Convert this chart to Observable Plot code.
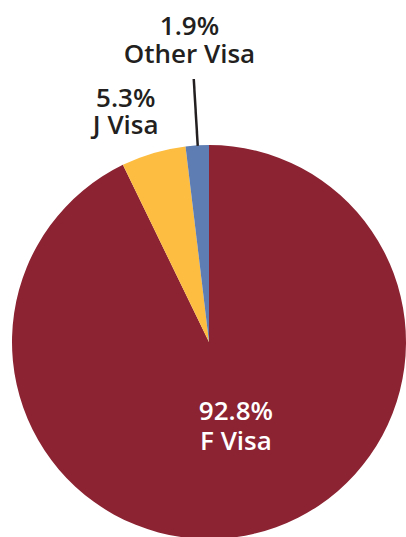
<!DOCTYPE html>
<html>
<head>
<meta charset="utf-8">
<script src="https://cdn.jsdelivr.net/npm/d3@7"></script>
<script src="https://cdn.jsdelivr.net/npm/@observablehq/plot@0.6"></script>
<style>
  html, body { margin: 0; padding: 0; background: #fff; }
  #chart svg { display: block; }
</style>
</head>
<body>
<div id="chart"></div>
<script>
// ---- data ----
const categories = ["F Visa", "J Visa", "Other Visa"];
const shares = [92.8, 5.3, 1.9];
const pctLabels = ["92.8%", "5.3%", "1.9%"];
const nameLabels = ["F Visa", "J Visa", "Other Visa"];
const colors = ["#8b2332", "#fdbd40", "#5d7db3"];

// ---- layout (not data) ----
const R = 197, CX = 209, CY = 342;
const labelLayout = {
  "F Visa":     {k: 0.44, dx: 7,   fill: "#ffffff", size: 26, gap: 30, weight: 600},
  "J Visa":     {k: 1.22, dx: -16, fill: "#231f20", size: 26, gap: 27, weight: 600},
  "Other Visa": {k: 1.535, dx: -2, fill: "#231f20", size: 26, gap: 28, weight: 600}
};

const pie = d3.pie().sort(null).value(d => d.share)(
  categories.map((c, i) => ({category: c, share: shares[i], pct: pctLabels[i], name: nameLabels[i]}))
);
const slices = pie.map(p => {
  const mid = (p.startAngle + p.endAngle) / 2;
  return {...p.data, startAngle: p.startAngle, endAngle: p.endAngle, sin: Math.sin(mid), cos: Math.cos(mid)};
});

function arcs(index, scales) {
  const x = scales.x, y = scales.y, color = scales.color;
  const cx = x(0), cy = y(0), r = x(1) - x(0);
  const g = d3.create("svg:g").attr("transform", `translate(${cx},${cy})`);
  const arc = d3.arc().innerRadius(0).outerRadius(r);
  g.selectAll("path").data(slices).join("path")
    .attr("d", d => arc(d))
    .attr("fill", d => color(d.category));
  return g.node();
}

function textMarks(cat) {
  const L = labelLayout[cat];
  const data = slices.filter(d => d.category === cat);
  const common = {
    x: d => d.sin * L.k,
    y: d => d.cos * L.k,
    dx: L.dx,
    fill: L.fill,
    fontSize: L.size,
    fontWeight: L.weight,
    lineAnchor: "middle",
    textAnchor: "middle"
  };
  return [
    Plot.text(data, {...common, text: "pct", dy: -L.gap / 2}),
    Plot.text(data, {...common, text: "name", dy: L.gap / 2})
  ];
}

const chart = Plot.plot({
  width: 406,
  height: 537,
  margin: 0,
  style: {fontFamily: "'Open Sans', sans-serif", background: "#fff"},
  x: {domain: [-1, 1], range: [CX - R, CX + R], axis: null},
  y: {domain: [-1, 1], range: [CY + R, CY - R], axis: null},
  color: {domain: categories, range: colors},
  marks: [
    arcs,
    Plot.link(slices.filter(d => d.category === "Other Visa"), {
      x1: d => d.sin * 1.0,
      y1: d => d.cos * 1.0,
      x2: d => d.sin * 1.34,
      y2: d => d.cos * 1.34,
      stroke: "#231f20",
      strokeWidth: 2.5
    }),
    ...categories.flatMap(textMarks)
  ]
});
document.getElementById("chart").appendChild(chart);
</script>
</body>
</html>
